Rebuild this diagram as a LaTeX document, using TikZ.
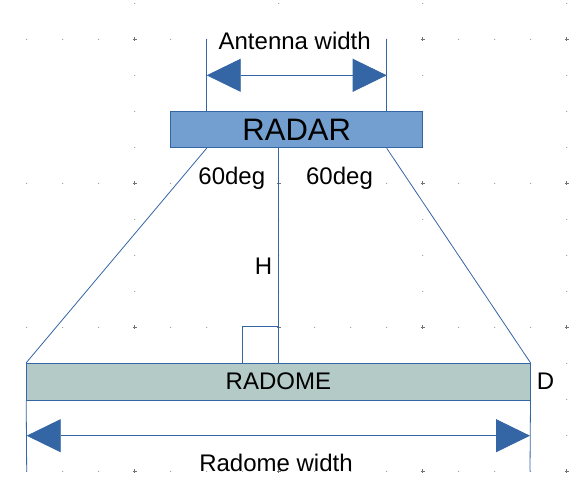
\documentclass[tikz,border=0pt]{standalone}
\usepackage{fontspec}
\setmainfont{Liberation Sans}
\usetikzlibrary{arrows.meta}
\definecolor{lineblue}{HTML}{3465A4}
\definecolor{radarfill}{HTML}{729FCF}
\definecolor{radomefill}{HTML}{B4CAC7}

\begin{document}
\begin{tikzpicture}[
    x=1pt, y=-1pt,
    gdot/.style={fill=black!50},
    gplus/.style={draw=black!55, line width=.5pt},
    bar/.style={draw=lineblue, line width=1pt, inner sep=0pt, minimum height=36pt},
    guide/.style={draw=lineblue, line width=.8pt},
    dimarr/.style={guide, {Triangle[length=34pt,width=33pt]}-{Triangle[length=34pt,width=33pt]}},
    lbl/.style={anchor=base, inner sep=0pt, font=\fontsize{24}{24}\selectfont}
    ]
    \useasboundingbox (0,0) rectangle (576,499);

    	\begin{scope}
    	    \foreach \gx in {134.7,278.7,422.7,566.7}
    	        \foreach \k in {0,...,13}
    	            \path [gdot] (\gx,3.3+36*\k) circle (.55pt);
    	    \foreach \gy in {39.3,183.3,327.3,471.3}
    	        \foreach \k in {0,...,15}
    	            \path [gdot] (26.7+36*\k,\gy) circle (.55pt);
    	    \foreach \gx in {134.7,278.7,422.7,566.7}
    	        \foreach \gy in {39.3,183.3,327.3,471.3}
    	            \draw [gplus] (\gx-2,\gy) -- (\gx+2,\gy) (\gx,\gy-2) -- (\gx,\gy+2);
    	\end{scope}

    	\node [bar, fill=radarfill, minimum width=252pt, font=\fontsize{31}{31}\selectfont] (radar) at (296.7,129.7) {RADAR};
    	\node [bar, fill=radomefill, minimum width=503.3pt, minimum height=36.7pt, font=\fontsize{24}{24}\selectfont] (radome) at (278.35,381.65) {RADOME};

    	\coordinate (antL) at (206.7,39.3);
    	\coordinate (antR) at (386.7,39.3);
    	\coordinate (antArrL) at (206.7,75.3);
    	\coordinate (antArrR) at (386.7,75.3);
    	\coordinate (radL) at (26.7,471.7);
    	\coordinate (radR) at (530,471.7);
    	\coordinate (radArrL) at (26.7,435.7);
    	\coordinate (radArrR) at (530,435.7);

    	\draw [guide] ([xshift=-90pt]radar.north) -- (antL);
    	\draw [guide] ([xshift=90pt]radar.north) -- (antR);
    	\draw [dimarr] (antArrL) -- (antArrR);

    	\draw [guide] ([xshift=-90pt]radar.south) -- (radome.north west);
    	\draw [guide] ([xshift=90pt]radar.south) -- (radome.north east);
    	\draw [guide] (radome.north |- radar.south) -- (radome.north);
    	\draw [guide] ([xshift=-36pt]radome.north) |- ([yshift=36pt]radome.north);

    	\draw [guide] (radome.south west) -- (radL);
    	\draw [guide] (radome.south east) -- (radR);
    	\draw [dimarr] (radArrL) -- (radArrR);

    	\node [lbl] (antlbl) at (294.7,49.5) {Antenna width};
    	\node [lbl] (degL) at (231.8,184) {60deg};
    	\node [lbl] (degR) at (339.5,184) {60deg};
    	\node [lbl] (hlbl) at (263.5,274) {H};
    	\node [lbl] (dlbl) at (545.5,389) {D};
    	\node [lbl] (radlbl) at (276,471) {Radome width};
\end{tikzpicture}
\end{document}
